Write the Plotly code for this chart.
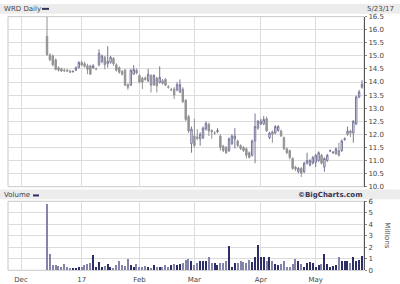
import pandas as pd
import plotly.graph_objects as go

# ---------------- data ----------------
HOLIDAYS = ["2016-12-26", "2017-01-02", "2017-01-16", "2017-02-20", "2017-04-14"]
AXIS_START = "2016-12-01"
FIRST_DAY = "2016-12-14"
LAST_DAY = "2017-05-23"
MONTH_LABELS = ["Dec", "17", "Feb", "Mar", "Apr", "May"]

OPEN = [15.75, 15.04, 15.00, 14.85, 14.55, 14.50, 14.45, 14.45, 14.42, 14.40,
        14.45, 14.55, 14.75, 14.70, 14.62, 14.62, 14.55, 14.50, 14.66, 14.78,
        14.95, 14.70, 14.75, 14.90, 14.66, 14.55, 14.40, 14.45, 13.90, 13.88,
        14.30, 14.45, 14.25, 14.15, 14.15, 14.05, 14.25, 13.90, 14.15, 13.98,
        14.05, 14.10, 13.82, 13.70, 13.73, 13.70, 13.62, 13.73, 13.30, 12.68,
        11.65, 11.94, 11.90, 11.83, 11.87, 12.20, 12.38, 12.15, 12.05, 12.10,
        11.94, 11.55, 11.50, 11.38, 11.64, 11.82, 11.75, 11.57, 11.50, 11.45,
        11.30, 11.20, 11.75, 12.24, 12.40, 12.40, 12.60, 11.87, 12.10, 12.05,
        12.15, 12.13, 11.87, 11.45, 11.38, 11.08, 10.75, 10.57, 10.70, 10.57,
        10.90, 10.82, 10.90, 10.93, 11.00, 11.20, 10.75, 11.00, 11.36, 11.30,
        11.27, 11.38, 11.38, 11.80, 12.00, 12.13, 12.05, 12.40, 13.43, 13.80]
HIGH = [16.50, 15.10, 15.05, 14.90, 14.60, 14.55, 14.52, 14.50, 14.47, 14.45,
        14.60, 14.80, 14.82, 14.78, 14.70, 14.66, 14.68, 14.55, 15.25, 15.05,
        15.00, 15.37, 15.00, 14.95, 14.72, 14.60, 14.46, 14.50, 13.95, 14.50,
        14.65, 14.52, 14.30, 14.20, 14.22, 14.50, 14.30, 14.30, 14.20, 14.60,
        14.12, 14.15, 13.88, 13.78, 13.80, 14.00, 14.10, 13.80, 13.35, 12.75,
        12.30, 12.60, 12.20, 12.08, 12.30, 12.50, 12.45, 12.20, 12.12, 12.24,
        12.00, 11.60, 11.55, 11.88, 12.00, 12.24, 11.80, 11.62, 11.55, 11.50,
        11.35, 11.80, 12.80, 12.55, 12.60, 12.70, 12.68, 12.10, 12.15, 12.35,
        12.35, 12.18, 11.92, 11.50, 11.42, 11.12, 10.80, 10.75, 10.75, 10.95,
        11.30, 11.05, 11.18, 11.25, 11.35, 11.25, 11.12, 11.25, 11.42, 11.36,
        11.50, 11.68, 11.80, 11.88, 12.30, 12.18, 12.55, 13.48, 13.70, 14.07]
LOW = [15.00, 14.80, 14.60, 14.45, 14.40, 14.38, 14.38, 14.38, 14.35, 14.36,
       14.42, 14.52, 14.60, 14.55, 14.30, 14.28, 14.50, 14.45, 14.60, 14.72,
       14.48, 14.55, 14.70, 14.62, 14.40, 14.32, 14.25, 13.85, 13.70, 13.85,
       14.28, 14.30, 13.95, 13.73, 14.05, 14.00, 13.60, 13.85, 13.60, 13.95,
       13.90, 13.85, 13.75, 13.65, 13.35, 13.65, 13.58, 13.20, 12.50, 12.05,
       11.30, 11.50, 11.78, 11.57, 11.82, 12.15, 11.94, 11.83, 11.98, 12.05,
       11.38, 11.32, 11.25, 11.33, 11.60, 11.46, 11.52, 11.40, 11.33, 11.08,
       11.08, 11.15, 10.90, 12.18, 12.35, 12.35, 12.10, 11.82, 11.68, 12.00,
       12.10, 11.90, 11.40, 11.25, 11.05, 10.65, 10.60, 10.52, 10.37, 10.52,
       10.85, 10.78, 10.85, 10.75, 10.95, 10.85, 10.57, 10.95, 11.32, 11.25,
       11.22, 11.15, 11.33, 11.76, 11.95, 11.90, 11.68, 12.35, 13.38, 13.75]
CLOSE = [15.05, 14.85, 14.66, 14.48, 14.45, 14.42, 14.43, 14.42, 14.38, 14.40,
         14.55, 14.75, 14.65, 14.60, 14.48, 14.30, 14.62, 14.50, 15.10, 15.00,
         14.66, 14.80, 14.95, 14.70, 14.45, 14.37, 14.30, 13.88, 13.80, 14.45,
         14.48, 14.35, 14.00, 14.00, 14.10, 14.30, 13.88, 14.25, 13.85, 14.18,
         13.95, 13.88, 13.80, 13.70, 13.50, 13.90, 13.90, 13.25, 12.57, 12.13,
         12.20, 11.57, 11.85, 12.00, 12.24, 12.42, 12.13, 12.10, 12.05, 12.15,
         11.50, 11.38, 11.30, 11.83, 11.94, 11.94, 11.57, 11.46, 11.38, 11.20,
         11.12, 11.75, 12.30, 12.50, 12.50, 12.57, 12.13, 12.05, 12.00, 12.30,
         12.30, 11.94, 11.45, 11.30, 11.12, 10.70, 10.68, 10.70, 10.52, 10.90,
         11.00, 11.00, 11.12, 11.20, 11.30, 10.90, 11.08, 11.20, 11.38, 11.32,
         11.45, 11.20, 11.75, 11.83, 12.13, 12.05, 12.50, 13.43, 13.62, 13.92]
VOLUME_M = [5.74, 1.37, 0.45, 0.40, 0.35, 0.30, 0.50, 0.25, 0.10, 0.15,
            0.20, 0.22, 0.30, 0.40, 0.55, 0.65, 1.30, 0.30, 0.70, 0.30,
            0.35, 0.50, 0.25, 0.20, 0.40, 0.80, 0.45, 0.35, 1.00, 0.40,
            0.30, 0.55, 0.30, 0.25, 0.35, 0.30, 0.20, 0.40, 0.30, 0.25,
            0.30, 0.40, 0.30, 0.45, 0.50, 0.40, 0.55, 0.60, 0.90, 0.95,
            0.75, 0.45, 0.60, 0.75, 0.80, 0.80, 1.10, 0.60, 0.60, 0.40,
            0.60, 0.65, 0.75, 2.10, 0.30, 0.60, 0.65, 0.80, 0.70, 0.65,
            0.85, 0.70, 1.15, 2.15, 1.10, 1.10, 0.75, 1.10, 0.80, 0.55,
            0.45, 0.50, 0.80, 0.30, 0.30, 0.55, 0.95, 0.80, 0.55, 0.30,
            0.60, 0.70, 0.60, 0.30, 0.40, 0.50, 1.35, 0.55, 0.25, 0.35,
            0.40, 1.10, 0.80, 0.75, 0.75, 0.60, 1.15, 0.75, 0.85, 1.25]

# ---------------- trading-day axis ----------------
days = pd.bdate_range(AXIS_START, LAST_DAY, freq="C", holidays=HOLIDAYS)
pos = {d: i for i, d in enumerate(days)}
first = pos[pd.Timestamp(FIRST_DAY)]
xs = list(range(first, first + len(CLOSE)))
month_pos = []
seen = set()
for d in days:
    key = (d.year, d.month)
    if key not in seen:
        seen.add(key)
        month_pos.append(pos[d])

FONT = "DejaVu Sans"
TXT = "#444444"
GRID = "#dcdcdc"
W, H = 400, 284

def py(px):  # pixel from top -> paper y
    return 1 - px / H

fig = go.Figure()
fig.add_trace(go.Candlestick(
    x=xs, open=OPEN, high=HIGH, low=LOW, close=CLOSE,
    increasing=dict(line=dict(color="#77779a", width=1), fillcolor="#ffffff"),
    decreasing=dict(line=dict(color="#939393", width=1), fillcolor="#939393"),
    whiskerwidth=0, xaxis="x", yaxis="y", showlegend=False, hoverinfo="skip"))

vol_colors = ["#2e2e66" if c >= o else "#8484aa" for o, c in zip(OPEN, CLOSE)]
fig.add_trace(go.Bar(x=xs, y=VOLUME_M, marker=dict(color=vol_colors, line=dict(width=0)),
                     width=0.42, xaxis="x2", yaxis="y2", showlegend=False, hoverinfo="skip"))

xr = [-4.5, 118.7]
xdom = [8 / W, 364 / W]
common_x = dict(range=xr, domain=xdom, tickvals=month_pos, showgrid=True, gridcolor=GRID,
                gridwidth=1, zeroline=False, showline=False, fixedrange=True,
                rangeslider=dict(visible=False))
fig.update_layout(
    width=W, height=H, margin=dict(l=0, r=0, t=0, b=0),
    paper_bgcolor="white", plot_bgcolor="white",
    font=dict(family=FONT, size=7, color=TXT),
    xaxis=dict(**common_x, anchor="y", showticklabels=False, ticks=""),
    xaxis2=dict(**common_x, anchor="y2", ticktext=MONTH_LABELS, ticks="outside",
                ticklen=2, tickcolor="rgba(0,0,0,0)",
                tickfont=dict(size=7, color=TXT)),
    yaxis=dict(domain=[py(188), py(13)], range=[10, 16.5], dtick=0.5, tick0=10,
               tickformat=".1f", side="right", showgrid=True, gridcolor=GRID,
               showline=True, linecolor="#555555", linewidth=1, ticks="outside",
               ticklen=2, tickcolor="#888888", zeroline=False, fixedrange=True,
               tickfont=dict(size=7, color=TXT)),
    yaxis2=dict(domain=[py(274), py(203)], range=[0, 6], dtick=1, side="right",
                showgrid=True, gridcolor=GRID, showline=True, linecolor="#555555",
                linewidth=1, ticks="outside", ticklen=2, tickcolor="#888888",
                zeroline=False, fixedrange=True, tickfont=dict(size=7, color=TXT)),
    bargap=0,
)

shapes = [
    dict(type="rect", xref="paper", yref="paper", x0=0, x1=1, y0=py(10), y1=1,
         fillcolor="#ececec", line=dict(width=0), layer="below"),
    dict(type="rect", xref="paper", yref="paper", x0=0, x1=1, y0=py(201), y1=py(191),
         fillcolor="#ececec", line=dict(width=0), layer="below"),
    dict(type="rect", xref="paper", yref="paper", x0=xdom[0], x1=xdom[1], y0=py(188), y1=py(13),
         line=dict(color="#c8c8c8", width=1), layer="below"),
    dict(type="rect", xref="paper", yref="paper", x0=xdom[0], x1=xdom[1], y0=py(274), y1=py(203),
         line=dict(color="#c8c8c8", width=1), layer="below"),
    dict(type="line", xref="paper", yref="paper", x0=42 / W, x1=49 / W, y0=py(5), y1=py(5),
         line=dict(color="#333355", width=2)),
    dict(type="line", xref="paper", yref="paper", x0=33 / W, x1=39 / W, y0=py(197), y1=py(197),
         line=dict(color="#2e2e66", width=2)),
]
fig.update_layout(shapes=shapes)

ann = [
    dict(text="WRD Daily", x=2 / W, y=py(5), xanchor="left", yanchor="middle",
         font=dict(size=7, color=TXT)),
    dict(text="5/23/17", x=396 / W, y=py(5), xanchor="right", yanchor="middle",
         font=dict(size=7, color=TXT)),
    dict(text="Volume", x=2 / W, y=py(197), xanchor="left", yanchor="middle",
         font=dict(size=7, color=TXT)),
    dict(text="<b>©BigCharts.com</b>", x=364 / W, y=py(197), xanchor="right", yanchor="middle",
         font=dict(size=7, color="#333355")),
    dict(text="Millions", x=387 / W, y=py(238), xanchor="center", yanchor="middle",
         textangle=90, font=dict(size=7, color=TXT)),
]
for a in ann:
    a.update(xref="paper", yref="paper", showarrow=False)
fig.update_layout(annotations=ann)

fig.write_html("out.html", config={"displayModeBar": False})
